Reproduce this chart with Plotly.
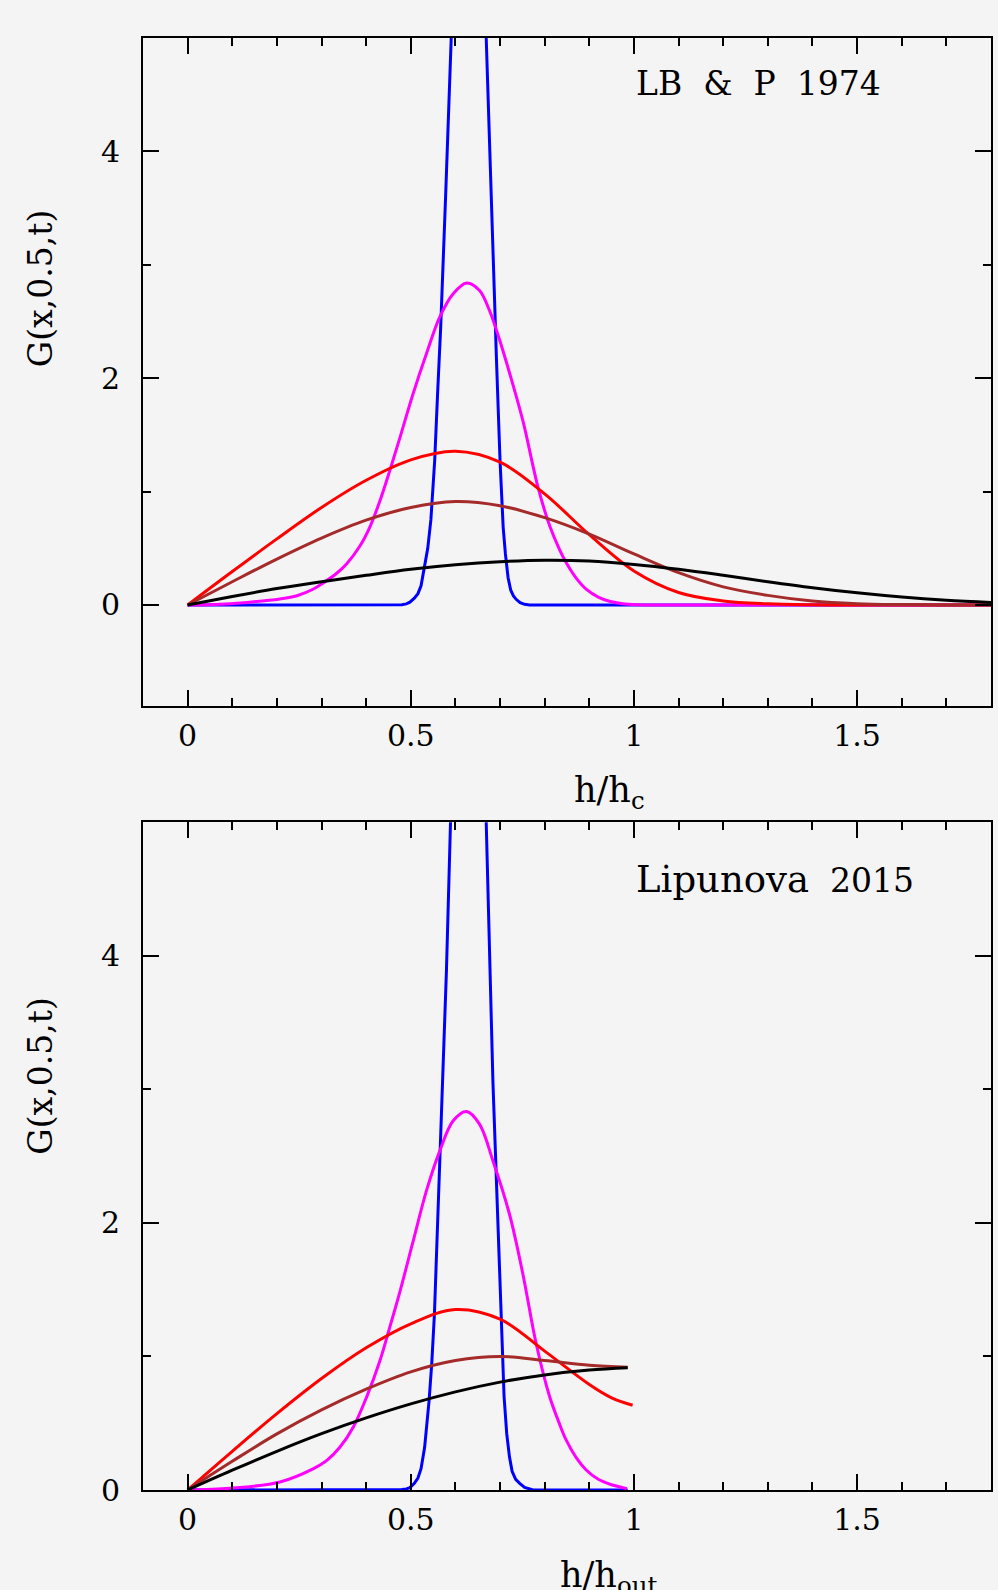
import plotly.graph_objects as go

# ---------------- Top panel: LB & P 1974 ----------------
top_blue_x = [0, 0.46, 0.48, 0.49, 0.498, 0.508, 0.516, 0.523, 0.531, 0.538, 0.545, 0.5535, 0.560, 0.567, 0.578, 0.589, 0.605, 0.629, 0.655, 0.669, 0.684, 0.692, 0.700, 0.707, 0.712, 0.718, 0.724, 0.730, 0.736, 0.745, 0.755, 0.766, 1.8]
top_blue_y = [0, 0, 0.003, 0.01, 0.025, 0.06, 0.10, 0.17, 0.33, 0.50, 0.75, 1.27, 1.86, 2.45, 3.6, 5.0, 6.6, 8.0, 6.6, 5.0, 3.04, 2.16, 1.27, 0.685, 0.45, 0.24, 0.13, 0.08, 0.05, 0.02, 0.006, 0, 0]

top_mag_x = [0, 0.06, 0.133, 0.207, 0.245, 0.282, 0.304, 0.334, 0.356, 0.386, 0.408, 0.431, 0.453, 0.476, 0.505, 0.535, 0.565, 0.595, 0.625, 0.654, 0.676, 0.698, 0.721, 0.751, 0.785, 0.811, 0.833, 0.848, 0.871, 0.893, 0.920, 0.945, 0.975, 1.005, 1.1, 1.8]
top_mag_y = [0, 0.005, 0.023, 0.053, 0.082, 0.141, 0.195, 0.28, 0.362, 0.52, 0.685, 0.92, 1.185, 1.48, 1.86, 2.215, 2.54, 2.745, 2.84, 2.774, 2.60, 2.35, 2.05, 1.627, 1.04, 0.70, 0.49, 0.375, 0.235, 0.14, 0.07, 0.033, 0.011, 0.003, 0, 0]

top_red_x = [0, 0.1, 0.2, 0.3, 0.4, 0.5, 0.6, 0.7, 0.8, 0.9, 1.0, 1.1, 1.2, 1.3, 1.4, 1.5, 1.8]
top_red_y = [0, 0.295, 0.583, 0.86, 1.1, 1.28, 1.356, 1.26, 0.98, 0.62, 0.30, 0.11, 0.035, 0.01, 0.002, 0, 0]

top_brown_x = [0, 0.1, 0.2, 0.3, 0.4, 0.5, 0.6, 0.7, 0.8, 0.9, 1.0, 1.1, 1.2, 1.3, 1.4, 1.5, 1.6, 1.7, 1.8]
top_brown_y = [0, 0.205, 0.405, 0.59, 0.748, 0.86, 0.912, 0.875, 0.77, 0.625, 0.45, 0.285, 0.16, 0.085, 0.035, 0.012, 0.004, 0.001, 0]

top_black_x = [0, 0.1, 0.2, 0.3, 0.4, 0.5, 0.6, 0.7, 0.8, 0.9, 1.0, 1.1, 1.2, 1.3, 1.4, 1.5, 1.6, 1.7, 1.8]
top_black_y = [0, 0.075, 0.145, 0.205, 0.262, 0.315, 0.355, 0.382, 0.395, 0.388, 0.358, 0.315, 0.262, 0.205, 0.152, 0.107, 0.07, 0.042, 0.023]

# ---------------- Bottom panel: Lipunova 2015 ----------------
bot_blue_x = [0, 0.46, 0.48, 0.49, 0.498, 0.508, 0.516, 0.523, 0.531, 0.541, 0.547, 0.553, 0.563, 0.571, 0.580, 0.589, 0.605, 0.629, 0.655, 0.669, 0.684, 0.695, 0.702, 0.709, 0.715, 0.721, 0.727, 0.735, 0.744, 0.755, 0.774, 0.986]
bot_blue_y = [0, 0, 0.003, 0.008, 0.018, 0.05, 0.09, 0.16, 0.32, 0.67, 0.95, 1.32, 2.32, 3.06, 3.9, 5.0, 6.6, 8.0, 6.6, 5.0, 3.06, 2.07, 1.32, 0.70, 0.42, 0.25, 0.14, 0.08, 0.05, 0.02, 0, 0]

bot_mag_x = [0, 0.095, 0.207, 0.282, 0.312, 0.341, 0.371, 0.401, 0.431, 0.453, 0.476, 0.505, 0.535, 0.565, 0.595, 0.625, 0.654, 0.684, 0.721, 0.751, 0.781, 0.811, 0.833, 0.848, 0.871, 0.893, 0.920, 0.945, 0.984]
bot_mag_y = [0, 0.013, 0.06, 0.16, 0.222, 0.32, 0.47, 0.696, 0.97, 1.22, 1.49, 1.86, 2.24, 2.54, 2.765, 2.835, 2.74, 2.466, 2.067, 1.62, 1.095, 0.70, 0.497, 0.375, 0.24, 0.15, 0.08, 0.045, 0.01]

bot_red_x = [0, 0.1, 0.2, 0.3, 0.4, 0.5, 0.6, 0.7, 0.8, 0.9, 0.95, 0.997]
bot_red_y = [0, 0.29, 0.572, 0.835, 1.065, 1.245, 1.352, 1.28, 1.04, 0.79, 0.69, 0.635]

bot_brown_x = [0, 0.1, 0.2, 0.3, 0.4, 0.5, 0.6, 0.7, 0.8, 0.9, 0.986]
bot_brown_y = [0, 0.215, 0.42, 0.6, 0.755, 0.885, 0.97, 1.0, 0.97, 0.935, 0.92]

bot_black_x = [0, 0.1, 0.2, 0.3, 0.4, 0.5, 0.6, 0.7, 0.8, 0.9, 0.986]
bot_black_y = [0, 0.148, 0.29, 0.422, 0.54, 0.645, 0.735, 0.808, 0.862, 0.898, 0.915]

COLORS = {"blue": "#0000ff", "mag": "#ff00ff", "red": "#ff0000", "brown": "#a52a2a", "black": "#000000"}
FONT = "DejaVu Serif"
BG = "#f4f4f4"

fig = go.Figure()

def add(x, y, color, xa, ya, shape="spline"):
    line = dict(color=color, width=3, shape=shape)
    if shape == "spline":
        line["smoothing"] = 1.0
    fig.add_trace(go.Scatter(x=x, y=y, mode="lines", xaxis=xa, yaxis=ya, line=line,
                             showlegend=False, hoverinfo="skip"))

add(top_blue_x, top_blue_y, COLORS["blue"], "x", "y", "linear")
add(top_mag_x, top_mag_y, COLORS["mag"], "x", "y")
add(top_red_x, top_red_y, COLORS["red"], "x", "y")
add(top_brown_x, top_brown_y, COLORS["brown"], "x", "y")
add(top_black_x, top_black_y, COLORS["black"], "x", "y")

add(bot_blue_x, bot_blue_y, COLORS["blue"], "x2", "y2", "linear")
add(bot_mag_x, bot_mag_y, COLORS["mag"], "x2", "y2")
add(bot_red_x, bot_red_y, COLORS["red"], "x2", "y2")
add(bot_brown_x, bot_brown_y, COLORS["brown"], "x2", "y2")
add(bot_black_x, bot_black_y, COLORS["black"], "x2", "y2")

tickfont = dict(family=FONT, size=30, color="black")
minor_x = dict(dtick=0.1, tick0=0, ticks="inside", ticklen=8, tickwidth=2, tickcolor="black")
minor_y = dict(dtick=1, tick0=0, ticks="inside", ticklen=8, tickwidth=2, tickcolor="black")

def xax(anchor):
    return dict(range=[-0.1, 1.8], domain=[0, 1], anchor=anchor, dtick=0.5, tick0=0,
                ticks="inside", ticklen=16, tickwidth=2, tickcolor="black",
                showline=True, linewidth=2, linecolor="black", mirror="allticks",
                showgrid=False, zeroline=False, minor=minor_x, tickfont=tickfont,
                ticklabelstandoff=2)

def yax(anchor, rng, dom):
    return dict(range=rng, domain=dom, anchor=anchor, dtick=2, tick0=0,
                ticks="inside", ticklen=16, tickwidth=2, tickcolor="black",
                showline=True, linewidth=2, linecolor="black", mirror="allticks",
                showgrid=False, zeroline=False, minor=minor_y, tickfont=tickfont,
                ticklabelstandoff=15)

fig.update_layout(
    width=998, height=1590,
    paper_bgcolor=BG, plot_bgcolor=BG,
    margin=dict(l=142.7, r=5.3, t=37.7, b=100.3, pad=0),
    xaxis=xax("y"),
    yaxis=yax("x", [-0.89, 5], [0.54, 1]),
    xaxis2=xax("y2"),
    yaxis2=yax("x2", [0, 5], [0, 0.4598]),
    font=dict(family=FONT, color="black"),
)

annfont = dict(family=FONT, size=33, color="black")
fig.add_annotation(text="LB\u00a0\u00a0&\u00a0\u00a0P\u00a0\u00a01974", x=1.0, y=4.6, xref="x", yref="y",
                   xanchor="left", yanchor="middle", showarrow=False, font=annfont)
fig.add_annotation(text="<span style='font-size:37px'>Lipunova</span>\u00a0\u00a02015", x=1.0, y=4.575,
                   xref="x2", yref="y2", xanchor="left", yanchor="middle", showarrow=False, font=annfont)
fig.add_annotation(text="G(x,0.5,t)", textangle=-90, x=-0.1208, y=2.79, xref="paper", yref="y",
                   xanchor="center", yanchor="middle", showarrow=False, font=annfont)
fig.add_annotation(text="G(x,0.5,t)", textangle=-90, x=-0.1208, y=3.1, xref="paper", yref="y2",
                   xanchor="center", yanchor="middle", showarrow=False, font=annfont)
fig.add_annotation(text="h/h<sub>c</sub>", x=0.945, y=0.4805, xref="x", yref="paper",
                   xanchor="center", yanchor="middle", showarrow=False,
                   font=dict(family=FONT, size=35, color="black"))
fig.add_annotation(text="h/h<sub>out</sub>", x=0.83, y=-0.060, xref="x2", yref="paper",
                   xanchor="left", yanchor="middle", showarrow=False,
                   font=dict(family=FONT, size=35, color="black"))

fig.write_html("out.html", config={"displayModeBar": False},
               post_script="document.body.style.margin='0';document.body.style.padding='0';"
                           "document.body.style.overflow='hidden';")
